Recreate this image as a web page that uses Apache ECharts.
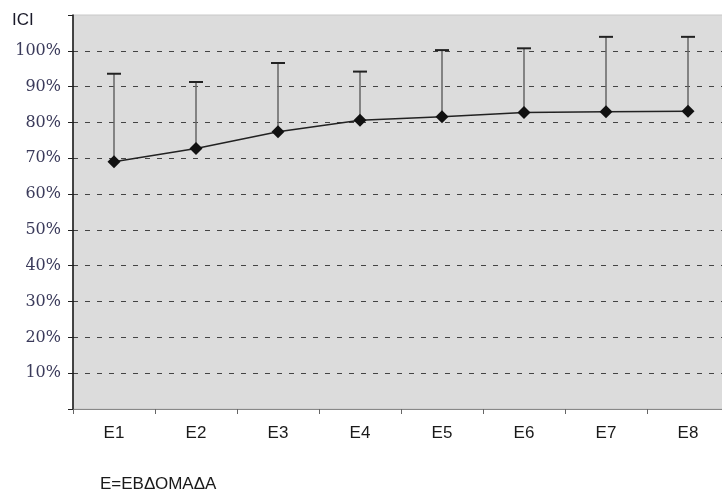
<!DOCTYPE html>
<html><head><meta charset="utf-8">
<script src="https://cdn.jsdelivr.net/npm/echarts@6/dist/echarts.min.js"></script>
<style>html,body{margin:0;padding:0;background:#fff;overflow:hidden}#c{width:730px;height:492px}</style>
</head><body><div id="c"></div>
<script>
var categories = ['E1','E2','E3','E4','E5','E6','E7','E8'];
var meanValues = [69.0, 72.7, 77.4, 80.6, 81.6, 82.8, 83.0, 83.1];
var upperValues = [93.6, 91.3, 96.6, 94.2, 100.2, 100.7, 103.9, 103.9];
var yTickValues = [10, 20, 30, 40, 50, 60, 70, 80, 90, 100];
var yAxisTitle = 'ICI';
var footnote = 'E=ΕΒΔΟΜΑΔΑ';

var errData = categories.map(function (c, i) { return [i, upperValues[i], meanValues[i]]; });

var chart = echarts.init(document.getElementById('c'), null, {renderer: 'canvas'});
chart.setOption({
  animation: false,
  backgroundColor: '#ffffff',
  grid: {left: 73, top: 15, width: 656, height: 394, show: true, backgroundColor: '#dcdcdc', borderColor: '#c8c8c8', borderWidth: 1},
  xAxis: {
    type: 'category', data: categories, boundaryGap: true,
    axisLine: {lineStyle: {color: '#888', width: 1}},
    axisTick: {show: true, length: 5, lineStyle: {color: '#666'}},
    axisLabel: {margin: 16, fontFamily: 'Liberation Sans', fontSize: 17, color: '#1a1a1a'},
    splitLine: {show: false}
  },
  yAxis: {
    type: 'value', min: 0, max: 110, interval: 10,
    axisLine: {show: true, lineStyle: {color: '#111', width: 1.5}},
    axisTick: {show: true, length: 5, lineStyle: {color: '#222'}},
    axisLabel: {
      margin: 12, fontFamily: 'DejaVu Serif', fontSize: 16, color: '#3a3a5a',
      formatter: function (v) { return yTickValues.indexOf(v) >= 0 ? v + '%' : ''; }
    },
    splitLine: {show: true, showMinLine: false, showMaxLine: false, lineStyle: {color: '#444', type: [5, 7], width: 1}}
  },
  graphic: [
    {type: 'text', left: 12, top: 12, style: {text: yAxisTitle, font: '17px "Liberation Sans"', fill: '#1a1a2a'}},
    {type: 'text', left: 100, top: 476, style: {text: footnote, font: '17px "Liberation Sans"', fill: '#1a1a1a'}}
  ],
  series: [
    {
      type: 'custom', data: errData, z: 2,
      renderItem: function (params, api) {
        var top = api.coord([api.value(0), api.value(1)]);
        var bot = api.coord([api.value(0), api.value(2)]);
        var hw = 7;
        return {type: 'group', children: [
          {type: 'line', shape: {x1: top[0], y1: top[1], x2: bot[0], y2: bot[1]}, style: {stroke: '#666', lineWidth: 1.5}},
          {type: 'line', shape: {x1: top[0] - hw, y1: top[1], x2: top[0] + hw, y2: top[1]}, style: {stroke: '#222', lineWidth: 2}}
        ]};
      }
    },
    {
      type: 'line', data: meanValues, z: 3,
      symbol: 'diamond', symbolSize: [13, 13],
      itemStyle: {color: '#111'},
      lineStyle: {color: '#222', width: 1.5}
    }
  ]
});
</script></body></html>
